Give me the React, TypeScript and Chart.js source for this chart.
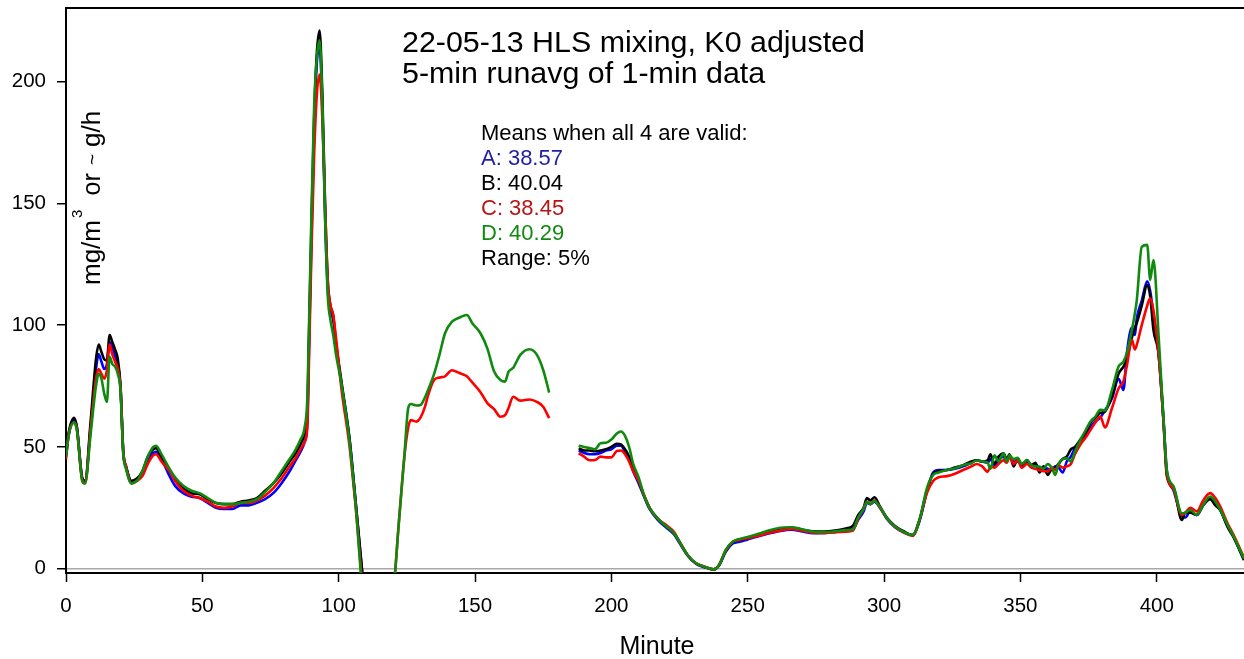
import React, { useEffect, useRef } from "react";
import { Chart, registerables } from "chart.js";

Chart.register(...registerables);

const FONT = '"Liberation Sans", Arial, Helvetica, sans-serif';

// ---------- text ----------
const TITLE_LINES = ["22-05-13 HLS mixing, K0 adjusted", "5-min runavg of 1-min data"];
const MEANS_HEADER = "Means when all 4 are valid:";
const SERIES_NAMES = ["A", "B", "C", "D"];
const MEAN_VALUES = ["38.57", "40.04", "38.45", "40.29"];
const RANGE_TEXT = "Range: 5%";
const X_TITLE = "Minute";
const X_TICKS = [0, 50, 100, 150, 200, 250, 300, 350, 400];
const Y_TICKS = [0, 50, 100, 150, 200];

// ---------- data (minutes, mg/m3) ----------
const MIN_1 = [0, 1, 3, 4, 6, 7, 9, 11, 12, 13, 14, 15, 16, 17, 18, 19, 20, 21, 22, 24, 26, 28, 30, 32, 33, 35, 38, 40, 43, 46, 49, 52, 55, 58, 61, 64, 67, 70, 73, 76, 79, 82, 84, 86, 87.5, 88.5, 89, 90, 91, 92, 93, 94, 95, 96, 97, 98, 99, 101, 104, 106, 110];
const A_1 = [46, 55, 61, 58, 37, 36, 58, 82, 88, 85, 82, 84, 93, 91, 87, 84, 74, 48, 42, 36, 36.5, 39, 44, 47.5, 48, 45, 38, 34, 31, 29.5, 29, 27, 25, 24.5, 24.5, 26, 26, 27, 28.5, 31, 35, 40, 44, 48, 52, 60, 85, 135, 180, 208, 214, 190, 145, 115, 106, 102, 92, 76, 53, 30, -18];
const B_1 = [47, 56, 62, 58, 37, 36, 60, 86, 92, 89, 86, 85.5, 96, 93, 90, 86, 75, 48, 42, 36, 37, 40, 46, 49, 49.5, 46, 40, 37, 33, 31, 30.5, 28.5, 27, 26.5, 26.5, 27.5, 28, 29, 32, 35, 39, 44, 47, 51, 55, 62, 90, 140, 185, 212, 221, 195, 150, 118, 108, 104, 93, 77, 53, 30, -18];
const C_1 = [45, 55, 60, 57, 36, 35, 57, 78, 82, 80, 78, 81.5, 92, 88, 85, 82, 74, 48, 42, 35, 36, 38, 43, 46.5, 47, 44, 40, 36, 32, 30, 29, 27.5, 25.5, 25, 25.5, 27, 27, 28, 30, 33, 37, 42, 45, 49, 52, 58, 80, 130, 170, 195, 203, 185, 150, 118, 108, 104, 95, 74, 50, 28, -15];
const D_1 = [46, 55, 60, 57, 36, 35, 55, 75, 80, 78, 72, 68.5, 87, 84, 83, 80, 73, 47, 41, 35, 36, 40, 46, 50, 50.5, 47, 41, 37.5, 34, 32, 31, 29, 27, 26.5, 26.5, 27, 27.5, 28.5, 31.5, 35, 40, 45, 48.5, 53, 58, 70, 94, 145, 190, 210, 217, 192, 145, 112, 102, 96, 88, 76, 52, 29, -18];

const MIN_2 = [118, 120, 122, 124, 125.5, 126.5, 128.5, 130, 131.5, 133, 135, 137, 139, 141.5, 143, 145, 147, 149, 152, 154.5, 157, 159.3, 161, 162.3, 164, 166.6, 170, 172.7, 175, 177.2];
const C_2 = [-18, -10, 18, 45, 58, 61, 60.4, 62, 66, 72, 77.5, 78.5, 79, 81.5, 81, 80, 79, 76.5, 72.5, 68, 65.5, 62.4, 63, 66, 70.6, 69, 69.5, 68.5, 66.5, 61.8];
const D_2 = [-18, -10, 18, 45, 66, 67.6, 67, 67.2, 70, 74, 80, 88, 96.7, 101.4, 102.5, 103.5, 104.2, 100.8, 96.7, 90.5, 81, 77.5, 76.8, 80.9, 82.5, 87.8, 90.1, 87.8, 81.6, 72.3];

const MIN_3 = [188, 190, 192, 194, 196, 198, 200, 202, 203.5, 205, 206.5, 208, 210, 212, 214, 217, 220, 223, 225, 228, 231, 234, 237.5, 239.5, 242, 244.5, 247, 250, 254, 258, 262, 266, 270, 274, 278, 282, 286, 288.5, 290.5, 292.5, 293.7, 295, 296.5, 298.5, 301, 304, 307, 310.5, 313, 315.7, 318, 320, 323, 326, 329, 332, 334, 336, 338, 339, 340.5, 342, 343.8, 345, 346, 347.5, 349, 350.5, 352.4, 354, 355.5, 357, 358.5, 360, 361.5, 362.8, 364, 365.5, 367, 368.5, 370, 372, 374, 375.7, 377.5, 379.3, 381, 383.6, 386, 387.8, 389, 390.9, 392, 392.7, 394.5, 396.5, 397.6, 398.8, 400.7, 402.5, 403.7, 406.2, 409.2, 410.5, 412.3, 414.7, 417, 419.6, 421.5, 423.3, 426, 428.2, 432];
const A_3 = [48.5, 47.5, 47, 47, 47.5, 48.5, 49, 50.5, 50.5, 48, 45, 40, 35, 29.5, 24.5, 20, 17, 14, 10.5, 5.3, 2, 0.6, -0.3, 1.3, 7, 10.3, 11, 12, 13.3, 14.5, 15.5, 16, 15.3, 14.5, 14.7, 15, 15.5, 16, 20, 23.5, 27, 26.5, 27.5, 25, 20.5, 17, 15, 13.8, 19.5, 31.5, 39.5, 40.5, 40.5, 41, 42, 43.5, 44.5, 44, 43.5, 45, 42.5, 44.5, 46, 44, 46, 44, 44, 43, 44, 42.5, 43, 41, 41.5, 41, 40.5, 42, 41.5, 39.5, 44, 46, 49.5, 52, 55, 58.5, 60.5, 62, 65, 70, 78, 73.4, 88, 99, 96, 103, 110, 118, 114, 104, 88, 61, 40, 32, 21.5, 21, 23.5, 22, 26, 29, 27, 24, 17.5, 13, 3.8];
const B_3 = [49.4, 48.5, 48.5, 48.2, 48.5, 49, 50, 51.3, 51, 49, 46, 41, 36, 30, 25, 20.5, 17.5, 14.5, 11, 5.5, 2.2, 0.8, -0.3, 1.5, 7.5, 10.8, 11.8, 12.5, 14, 15.5, 16.5, 16.8, 16, 15.3, 15.2, 15.6, 16.5, 17.5, 22, 25, 29, 28, 29.3, 25.5, 21, 17.5, 15.5, 13.8, 20, 32, 39, 40, 40.5, 41.5, 42.5, 44, 44.5, 44, 44.5, 47, 43, 46, 47.4, 45, 47, 42, 45, 42, 44.6, 42.5, 43.5, 39.5, 42, 38.5, 41, 41.5, 43, 45, 46, 49, 50, 53, 56, 60, 62, 64, 64.5, 71, 80, 83, 86, 95, 99, 101, 108, 116.5, 112, 98, 88, 60, 38, 33, 20, 23, 23, 22, 26, 28.5, 26, 24, 17, 12.8, 3.5];
const C_3 = [47.4, 46, 44.5, 44.6, 46, 45.7, 45.7, 48.3, 48.5, 47, 44, 40, 36, 30, 25, 20.5, 18, 15, 11, 5.5, 2.2, 0.8, -0.3, 1.5, 7.5, 11, 11.8, 12.5, 13.5, 14.7, 15.6, 16.3, 15.6, 14.8, 14.6, 15, 15.2, 15.5, 20.5, 24.5, 27.5, 26.5, 28, 25, 20.8, 17.2, 15, 13.5, 20, 31, 36, 37.5, 38, 39, 40.5, 42, 43, 42, 39.8, 42, 41.5, 43, 44.5, 43.5, 46, 43, 44.5, 41.5, 43, 41.5, 41, 40.5, 40, 40, 41.5, 40.5, 42.5, 41.5, 42, 43, 47, 51, 54, 57, 60, 62.5, 58, 66, 74, 77, 83, 94, 90, 92, 100, 108, 111, 106, 88, 60, 39, 32.5, 22, 23, 25, 23.5, 28, 31, 29, 25.5, 18.5, 13.8, 4.5];
const D_3 = [50.5, 50, 49.5, 49, 51.5, 51.7, 53, 55.5, 56.3, 54.5, 50, 43, 37.5, 30, 25, 20.5, 17.5, 14.5, 11, 5.5, 2.2, 0.8, -0.3, 1.5, 7.8, 11, 12.2, 13, 14.3, 15.8, 16.8, 17, 16.2, 15.2, 15, 15.3, 15.8, 16, 21, 24.5, 27.5, 26.5, 27.8, 25.3, 20.8, 17.3, 15.2, 13.8, 20, 33, 38.5, 39.5, 40.5, 41.2, 42.5, 43.3, 44.4, 44, 43.5, 41, 46.5, 44, 47.4, 44, 46.5, 45, 45.5, 43, 44.5, 42.5, 42, 41.9, 41, 43, 41.5, 38.5, 43, 45, 45.3, 44, 48, 52.9, 57, 60.4, 62.5, 65.2, 65, 73.4, 83, 85, 88.5, 98, 105, 110.4, 132.2, 133, 118.6, 126.8, 95.3, 61.1, 40.5, 33.7, 22.7, 23, 24.1, 22, 26, 29.6, 27.5, 24.1, 17.8, 13.1, 4.2];

// ---------- helpers ----------
const pts = (mins: number[], vals: number[]) => mins.map((m, i) => ({ x: m, y: vals[i] }));
const gap = (x: number) => ({ x, y: null as any });

const seriesA = [...pts(MIN_1, A_1), gap(150), ...pts(MIN_3, A_3)];
const seriesB = [...pts(MIN_1, B_1), gap(150), ...pts(MIN_3, B_3)];
const seriesC = [...pts(MIN_1, C_1), ...pts(MIN_2, C_2), gap(182), ...pts(MIN_3, C_3)];
const seriesD = [...pts(MIN_1, D_1), ...pts(MIN_2, D_2), gap(182), ...pts(MIN_3, D_3)];

const LINE_COLORS = ["#0000ff", "#000000", "#ff0000", "#0f8a0f"];
const TEXT_COLORS = ["#1f1fa6", "#000000", "#b81414", "#128a12"];

const overlayPlugin = {
  id: "overlay",
  afterDraw(chart: any) {
    const { ctx, chartArea } = chart;
    ctx.save();
    // top frame line
    ctx.strokeStyle = "#000";
    ctx.lineWidth = 2;
    ctx.beginPath();
    ctx.moveTo(chartArea.left - 1, chartArea.top);
    ctx.lineTo(chartArea.right, chartArea.top);
    ctx.stroke();

    ctx.textBaseline = "alphabetic";
    ctx.textAlign = "left";
    // title
    ctx.fillStyle = "#000";
    ctx.font = `30.4px ${FONT}`;
    ctx.fillText(TITLE_LINES[0], 402, 52.3);
    ctx.fillText(TITLE_LINES[1], 402, 83.3);

    // means
    ctx.font = `22px ${FONT}`;
    ctx.fillText(MEANS_HEADER, 481, 139.5);
    SERIES_NAMES.forEach((n, i) => {
      ctx.fillStyle = TEXT_COLORS[i];
      ctx.fillText(`${n}: ${MEAN_VALUES[i]}`, 481, 164.5 + i * 25);
    });
    ctx.fillStyle = "#000";
    ctx.fillText(RANGE_TEXT, 481, 264.5);

    // x title
    ctx.font = `25px ${FONT}`;
    ctx.textAlign = "center";
    ctx.fillText(X_TITLE, 657, 654);

    // y title (inside plot, rotated)
    ctx.textAlign = "left";
    ctx.translate(99.5, 0);
    ctx.rotate(-Math.PI / 2);
    ctx.font = `26px ${FONT}`;
    ctx.fillText("mg/m", -285, 0);
    ctx.font = `15px ${FONT}`;
    ctx.fillText("3", -218, -17.5);
    ctx.font = `25px ${FONT}`;
    ctx.fillText("or", -195.5, 0);
    ctx.font = `19px ${FONT}`;
    ctx.fillText("~", -165, -2);
    ctx.font = `26px ${FONT}`;
    ctx.fillText("g/h", -147, 0);
    ctx.restore();
  },
};

export default function App() {
  const canvasRef = useRef<HTMLCanvasElement | null>(null);

  useEffect(() => {
    if (!canvasRef.current) return;
    const mk = (data: any[], i: number, order: number) => ({
      data,
      borderColor: LINE_COLORS[i],
      backgroundColor: LINE_COLORS[i],
      borderWidth: 2.6,
      pointRadius: 0,
      cubicInterpolationMode: "monotone" as const,
      borderJoinStyle: "round" as const,
      spanGaps: false,
      order,
    });
    const chart = new Chart(canvasRef.current, {
      type: "line",
      data: {
        datasets: [mk(seriesA, 0, 3), mk(seriesB, 1, 2), mk(seriesC, 2, 1), mk(seriesD, 3, 0)],
      },
      plugins: [overlayPlugin],
      options: {
        responsive: false,
        animation: false,
        events: [],
        layout: { padding: { top: 8, left: 0, right: 0, bottom: 0 } },
        plugins: { legend: { display: false }, tooltip: { enabled: false }, title: { display: false } },
        scales: {
          x: {
            type: "linear",
            min: 0,
            max: 432,
            afterBuildTicks: (s: any) => {
              s.ticks = X_TICKS.map((v) => ({ value: v }));
            },
            afterFit: (s: any) => {
              s.height = 86;
              s.paddingLeft = 0;
              s.paddingRight = 0;
            },
            grid: { display: true, drawOnChartArea: false, tickLength: 9, tickColor: "#000", tickWidth: 1.5 },
            border: { display: true, color: "#000", width: 2 },
            ticks: { color: "#000", font: { family: FONT, size: 20.5 }, padding: 12, maxRotation: 0, autoSkip: false },
          },
          y: {
            type: "linear",
            min: -1.8,
            max: 230.3,
            afterBuildTicks: (s: any) => {
              s.ticks = Y_TICKS.map((v) => ({ value: v }));
            },
            afterFit: (s: any) => {
              s.width = 66;
              s.paddingTop = 0;
              s.paddingBottom = 0;
            },
            grid: {
              display: true,
              drawOnChartArea: true,
              color: (c: any) => (c.tick && c.tick.value === 0 ? "#a8a8a8" : "rgba(0,0,0,0)"),
              lineWidth: 1.5,
              tickLength: 9,
              tickColor: "#000",
              tickWidth: 1.5,
            },
            border: { display: true, color: "#000", width: 2 },
            ticks: { color: "#000", font: { family: FONT, size: 20.5 }, padding: 11, autoSkip: false },
          },
        },
      },
    });
    return () => chart.destroy();
  }, []);

  return (
    <div style={{ position: "fixed", left: 0, top: 0, width: 1244, height: 659, background: "#fff" }}>
      <canvas ref={canvasRef} width={1244} height={659} style={{ display: "block" }} />
    </div>
  );
}
